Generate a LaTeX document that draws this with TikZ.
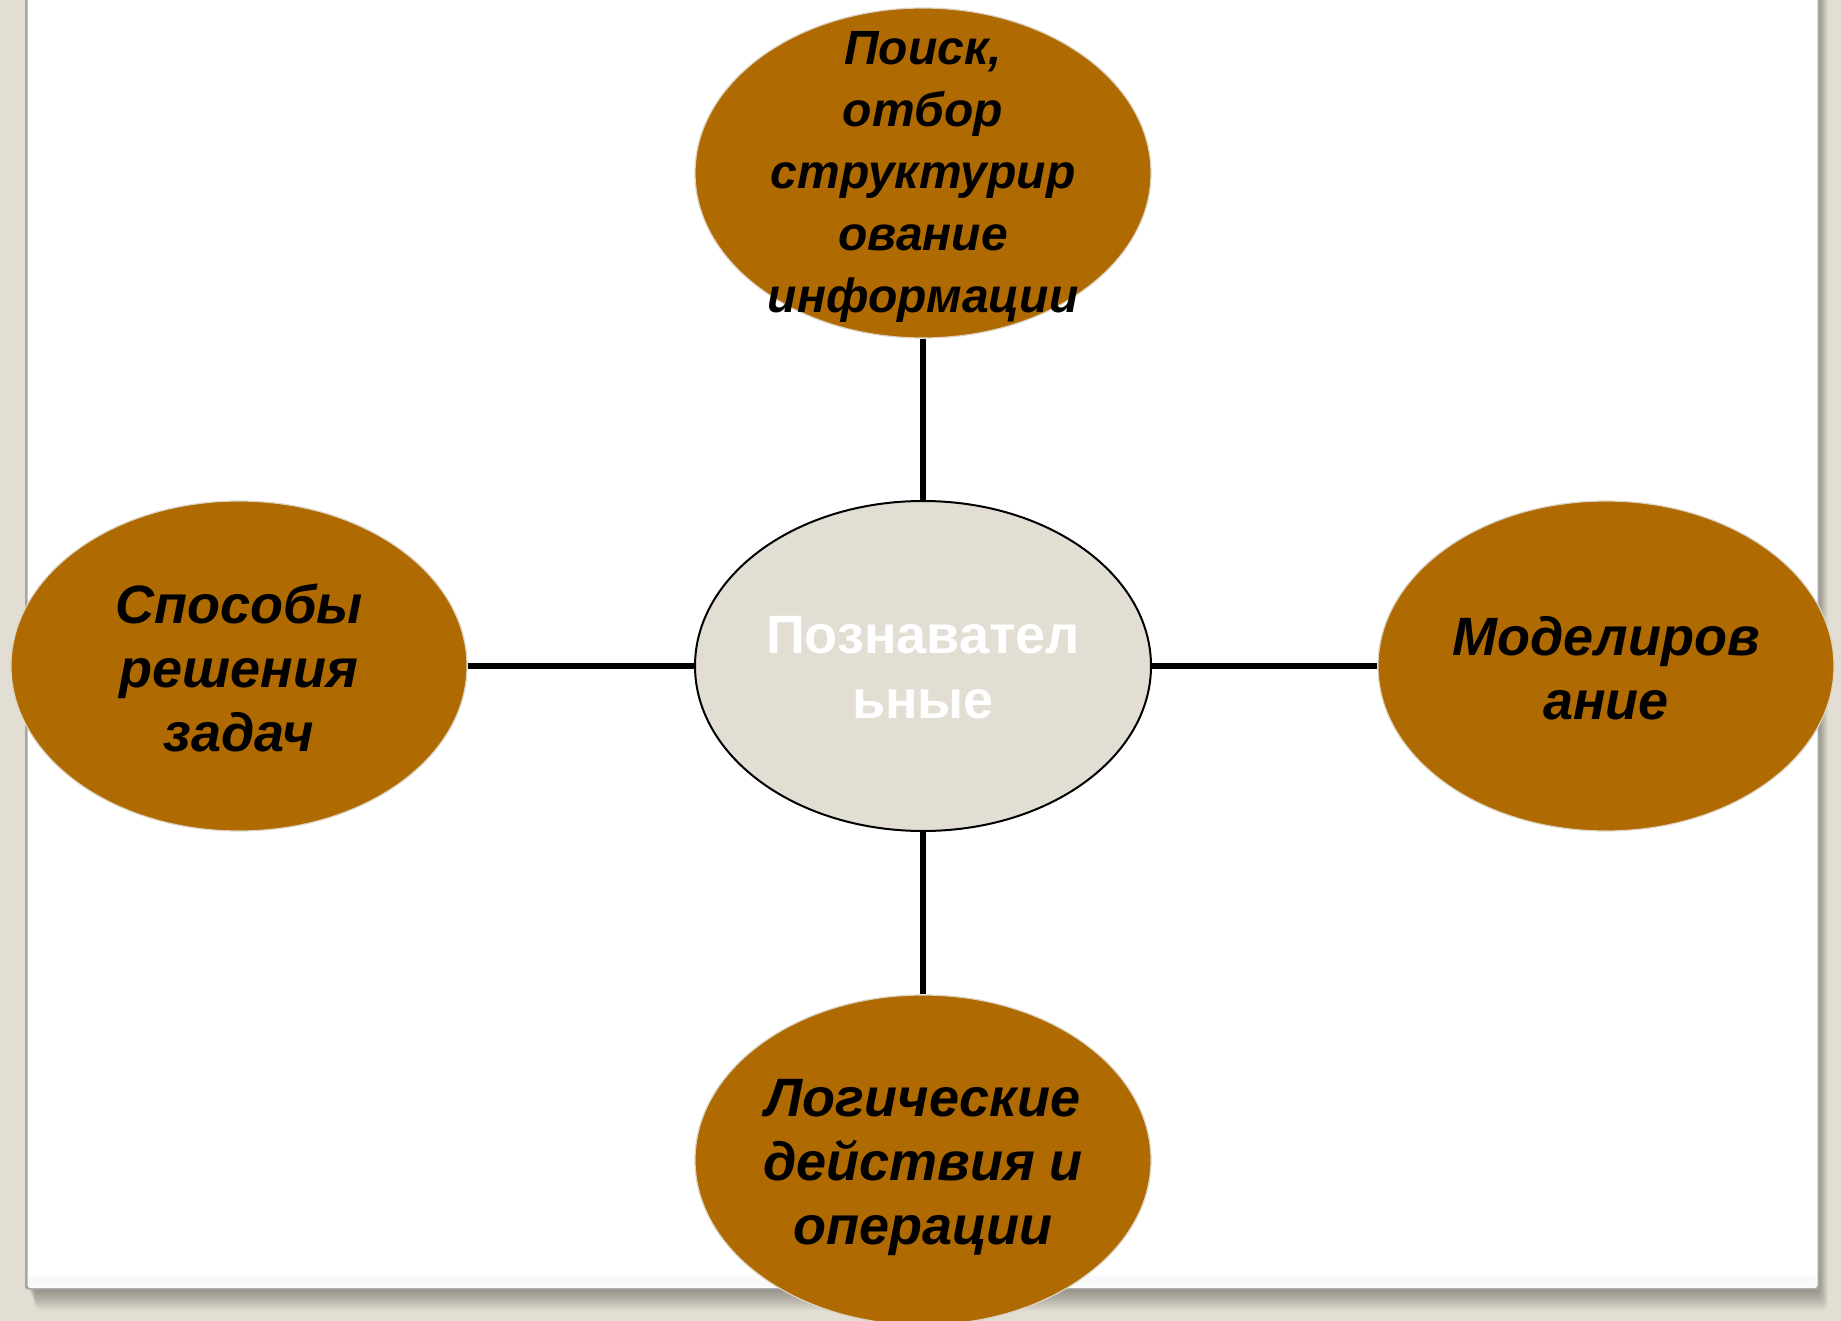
\documentclass[tikz,border=0pt]{standalone}
\usepackage{fontspec}
\setmainfont{Liberation Sans}
\usetikzlibrary{shapes.geometric}
\definecolor{bgbeige}{HTML}{E3DED3}
\definecolor{brownfill}{HTML}{B06A02}
\definecolor{brownedge}{HTML}{DDD3C2}
\definecolor{slideedge}{HTML}{A6A6A6}
\tikzset{
  leaf/.style={ellipse, fill=brownfill, draw=brownedge, line width=1.2pt,
    minimum width=456pt, minimum height=330pt, inner sep=0pt},
  hub/.style={ellipse, fill=bgbeige, draw=black, line width=2pt,
    minimum width=456pt, minimum height=330pt, inner sep=0pt},
  leaftext/.style={align=center, inner sep=0pt,
    font=\fontsize{54}{64}\selectfont\bfseries\itshape, text=black},
  toptext/.style={align=center, inner sep=0pt,
    font=\fontsize{48}{62}\selectfont\bfseries\itshape, text=black},
  hubtext/.style={align=center, inner sep=0pt,
    font=\fontsize{54}{65}\selectfont\bfseries, text=white},
  link/.style={draw=black, line width=6.5pt}
}
\begin{document}
\begin{tikzpicture}[x=1pt,y=-1pt]
\useasboundingbox (0,0) rectangle (1841,1321);
\clip (0,0) rectangle (1841,1321);
\fill[bgbeige] (0,0) rectangle (1841,1321);
% slide shadow (soft)
\foreach \d in {1,2,...,14}{
  \fill[black,opacity=0.028, rounded corners=6pt] (27+0.6*\d,-10) rectangle (1818+0.7*\d,1288+1.6*\d);
}
% slide
\fill[slideedge, rounded corners=3pt] (25,-10) rectangle (1819.5,1289.5);
\fill[white, rounded corners=3pt] (27.5,-10) rectangle (1817.5,1288);
\fill[white!95!gray] (28,1275) rectangle (1817,1286.5);
% nodes
\node[hub]  (c) at (923,666) {};
\node[leaf] (t) at (923,173) {};
\node[leaf] (l) at (239,666) {};
\node[leaf] (r) at (1606,666) {};
\node[leaf] (b) at (923,1160) {};
% connectors
\draw[link] (t.south) -- (c.north);
\draw[link] (c.south) -- (b.north);
\draw[link] (l.east) -- (c.west);
\draw[link] (c.east) -- (r.west);
% texts
\node[hubtext]  (ct) at (923,668) {Познавател\\ьные};
\node[toptext]  (tt) at (923,177) {Поиск,\\отбор\\структурир\\ование\\информации};
\node[leaftext] (lt) at (239,668) {Способы\\решения\\задач};
\node[leaftext] (rt) at (1606,668) {Моделиров\\ание};
\node[leaftext] (bt) at (923,1168) {Логические\\действия и\\операции};
\end{tikzpicture}
\end{document}
